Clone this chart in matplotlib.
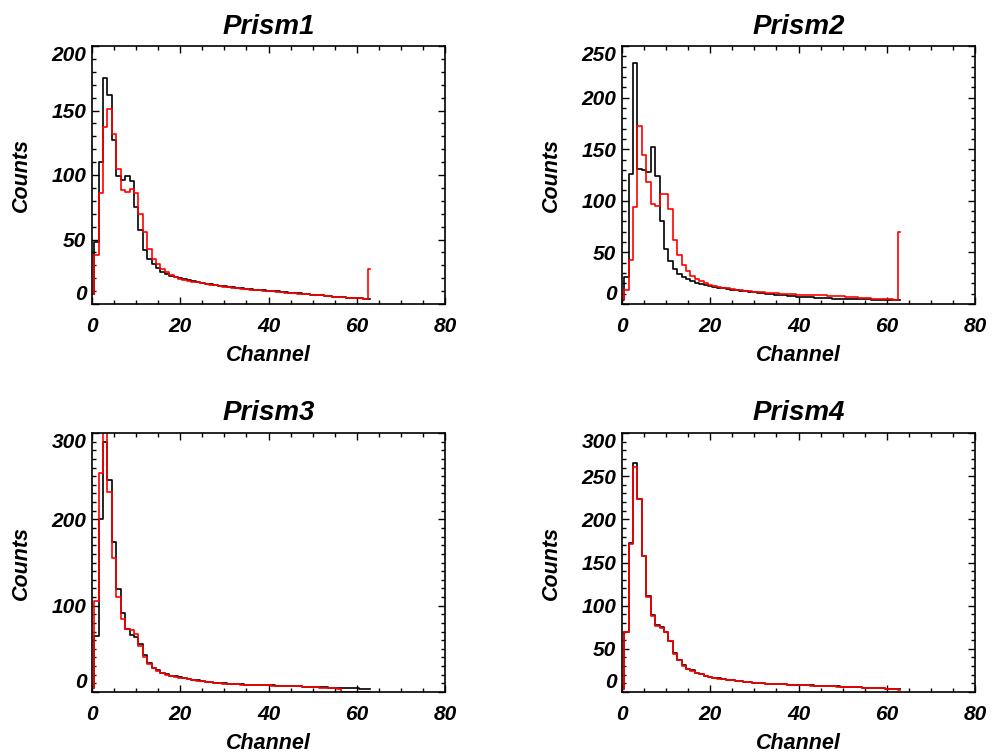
import numpy as np
import matplotlib
matplotlib.use("Agg")
import matplotlib.pyplot as plt
from matplotlib.ticker import MultipleLocator

# channel numbers 0..63, counts
channels = np.arange(64)

prism1_black = [8, 48, 110, 175, 162, 127, 99, 96, 99, 95, 75, 57, 42, 35, 31, 28,
                25, 23.5, 22, 21, 20, 19.2, 18.4, 17.7, 17, 16.4, 15.8, 15.2, 14.7, 14.2, 13.8, 13.4,
                13, 12.6, 12.2, 11.8, 11.5, 11.2, 10.9, 10.6, 10.3, 10, 9.7, 9.4, 9.1, 8.8, 8.5, 8.2,
                7.9, 7.6, 7.3, 7, 6.7, 6.4, 6.1, 5.8, 5.5, 5.2, 5, 4.8, 4.6, 4.4, 4.2, 4]
prism1_red = [8, 38, 86, 137, 151, 132, 105, 88, 87, 89, 86, 70, 56, 43, 35, 31,
              27.5, 24.5, 22.5, 20.7, 19.6, 18.8, 18, 17.3, 16.7, 16.1, 15.5, 15, 14.5, 14, 13.5, 13.1,
              12.7, 12.3, 11.9, 11.5, 11.2, 10.9, 10.6, 10.3, 10, 9.8, 9.5, 9.2, 8.9, 8.6, 8.3, 8,
              7.8, 7.5, 7.2, 6.9, 6.6, 6.3, 6, 5.7, 5.4, 5.1, 4.9, 4.7, 4.5, 4.3, 4.1, 27]

prism2_black = [4, 26, 126, 234, 131, 130, 128, 152, 124, 80, 53, 42, 34, 29, 26.5, 24,
                22, 20.5, 19.2, 18.2, 17.4, 16.6, 15.9, 15.2, 14.6, 14, 13.4, 12.9, 12.4, 11.9, 11.4, 10.9,
                10.4, 9.9, 9.5, 9.1, 8.7, 8.3, 7.9, 7.5, 7.2, 6.9, 6.6, 6.3, 6, 5.8, 5.6, 5.4,
                5.2, 5, 4.9, 4.8, 4.7, 4.6, 4.5, 4.4, 4.4, 4.3, 4.3, 4.2, 4.2, 4.1, 4, 3.9]
prism2_red = [5, 14, 43, 94, 172, 144, 118, 97, 95, 107, 107, 92, 62, 47, 38, 32,
              27, 24, 22, 20, 18.5, 17.5, 16.6, 15.8, 15.1, 14.5, 13.9, 13.4, 12.9, 12.5, 12.1, 11.7,
              11.3, 11, 10.7, 10.4, 10.1, 9.8, 9.6, 9.4, 9.2, 9.1, 9, 8.9, 8.7, 8.5, 8.3, 8.1,
              7.9, 7.6, 7.3, 7, 6.7, 6.4, 6.1, 5.8, 5.5, 5.2, 5, 4.8, 4.6, 4.4, 4.2, 70]

prism3_black = [5, 65, 200, 290, 245, 174, 119, 91, 73, 66, 64, 56, 43, 34, 28, 25,
                22.5, 20.5, 19, 18, 17.2, 16.2, 15.2, 14.3, 13.5, 12.8, 12.1, 11.5, 10.9, 10.4, 9.9, 9.5,
                9.2, 8.9, 8.7, 8.5, 8.3, 8.1, 7.9, 7.8, 7.7, 7.6, 7.5, 7.3, 7.1, 6.9, 6.7, 6.5,
                6.3, 6.1, 5.9, 5.7, 5.5, 5.3, 5.1, 4.9, 4.7, 4.5, 4.3, 4.2, 4.1, 4, 3.9, 3.8]
prism3_red = [5, 105, 254, 340, 232, 155, 110, 84, 73, 72, 67, 53, 41, 33, 28, 24.5,
              22, 20, 18.5, 17.5, 16.7, 15.8, 14.9, 14, 13.3, 12.6, 12, 11.4, 10.8, 10.3, 9.8, 9.4,
              9.1, 8.8, 8.6, 8.4, 8.2, 8, 7.8, 7.7, 7.6, 7.5, 7.4, 7.2, 7, 6.8, 6.6, 6.4,
              6.2, 5.9, 5.6, 5.3, 5, 4.7, 4.4, 4.1, 3.8, 0, 0, 0, 0, 0, 0, 0]

prism4_black = [4, 70, 173, 265, 224, 158, 111, 89, 77.5, 75, 69, 59.5, 45, 37, 31, 27,
                25, 22.5, 20.5, 19, 17.5, 16.6, 15.7, 14.9, 14.2, 13.5, 12.9, 12.3, 11.8, 11.3, 10.8, 10.4,
                10, 9.7, 9.4, 9.2, 9, 8.8, 8.6, 8.4, 8.2, 8, 7.8, 7.6, 7.4, 7.2, 7, 6.8,
                6.6, 6.4, 6.2, 6, 5.8, 5.6, 5.4, 5.2, 5, 4.8, 4.6, 4.3, 4, 3.7, 3.3, 2.9]
prism4_red = [4, 70, 171, 261, 223, 157, 110, 88.5, 77, 74.5, 69, 59, 44.5, 36.5, 30.5, 27,
              24.8, 22.3, 20.3, 18.9, 17.4, 16.5, 15.6, 14.8, 14.1, 13.4, 12.8, 12.2, 11.7, 11.2, 10.7, 10.3,
              9.9, 9.6, 9.3, 9.1, 8.9, 8.7, 8.5, 8.3, 8.1, 7.9, 7.7, 7.5, 7.3, 7.1, 6.9, 6.7,
              6.5, 6.3, 6.1, 5.9, 5.7, 5.5, 5.3, 5.1, 4.9, 4.7, 4.5, 4.2, 3.9, 3.6, 3.2, 2.8]

titles = ["Prism1", "Prism2", "Prism3", "Prism4"]
black_series = [prism1_black, prism2_black, prism3_black, prism4_black]
red_series = [prism1_red, prism2_red, prism3_red, prism4_red]
y_max = [200, 250, 300, 300]
y_major = [50, 50, 100, 50]

plt.rcParams['font.family'] = ['Liberation Sans', 'DejaVu Sans']
plt.rcParams['font.weight'] = 'bold'
plt.rcParams['font.style'] = 'italic'
plt.rcParams['axes.labelweight'] = 'bold'

fig = plt.figure(figsize=(9.92, 7.56), dpi=100)

# axes rectangles (figure fraction)
rects = [
    [92 / 992, 1 - 304 / 756, 353 / 992, 258 / 756],
    [622 / 992, 1 - 304 / 756, 353 / 992, 258 / 756],
    [92 / 992, 1 - 692 / 756, 353 / 992, 259 / 756],
    [622 / 992, 1 - 692 / 756, 353 / 992, 259 / 756],
]

for i in range(4):
    ax = fig.add_axes(rects[i])
    ax.step(channels, black_series[i], where='mid', color='black', lw=1.2)
    ax.step(channels, red_series[i], where='mid', color='red', lw=1.2)

    ax.set_xlim(0, 80)
    ax.set_ylim(0, y_max[i])
    ax.set_xticks(np.arange(0, 81, 20))
    ax.set_yticks(np.arange(0, y_max[i] + 1, y_major[i]))
    ax.xaxis.set_minor_locator(MultipleLocator(5))
    ax.yaxis.set_minor_locator(MultipleLocator(10))

    ax.tick_params(which='both', direction='in', top=True, right=True, width=1.0)
    ax.tick_params(which='major', length=5)
    ax.tick_params(which='minor', length=2.7)
    ax.tick_params(axis='x', which='major', pad=9, labelsize=15)
    ax.tick_params(axis='y', which='major', pad=4, labelsize=15)
    for s in ax.spines.values():
        s.set_linewidth(1.2)

    # IDL style: end labels on y pulled inside the axis range
    ylabels = ax.get_yticklabels()
    ylabels[0].set_va('bottom')
    ylabels[-1].set_va('top')

    ax.set_title(titles[i], fontsize=20, fontweight='bold', style='italic', pad=9)
    ax.set_xlabel("Channel", fontsize=15.5, fontweight='bold', va='center')
    ax.xaxis.set_label_coords(0.5, -0.198)
    ax.set_ylabel("Counts", fontsize=15.5, fontweight='bold', va='center')
    ax.yaxis.set_label_coords(-0.201, 0.5)

fig.savefig("out.png", dpi=100)
